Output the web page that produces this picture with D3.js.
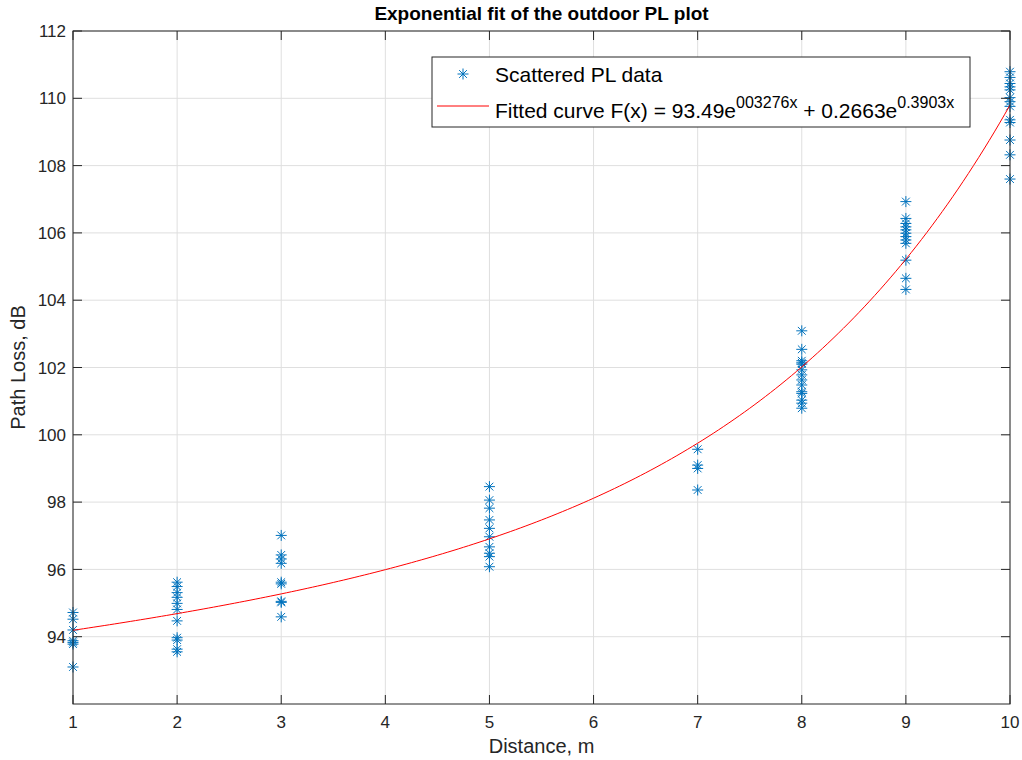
<!DOCTYPE html>
<html>
<head>
<meta charset="utf-8">
<script src="https://cdn.jsdelivr.net/npm/d3@7"></script>
<style>
  html, body { margin: 0; padding: 0; background: #fff; }
  svg { display: block; font-family: "Liberation Sans", Arial, Helvetica, sans-serif; }
</style>
</head>
<body>
<svg id="chart" width="1022" height="760"></svg>
<script>
// Measured distances (m) and the path loss samples taken at each distance (dB)
const distances = [1, 2, 3, 5, 7, 8, 9, 10];
const pathLoss = [
  [94.72, 94.52, 94.20, 93.88, 93.83, 93.78, 93.10],
  [95.62, 95.49, 95.31, 95.17, 94.99, 94.81, 94.47, 93.97, 93.90, 93.63, 93.55],
  [97.01, 96.43, 96.31, 96.18, 95.62, 95.57, 95.02, 95.05, 94.59],
  [98.46, 98.06, 97.82, 97.47, 97.22, 96.97, 96.67, 96.48, 96.38, 96.08],
  [99.57, 99.10, 99.00, 98.36],
  [103.09, 102.54, 102.20, 102.14, 102.10, 101.93, 101.78, 101.63, 101.48, 101.28, 101.23, 101.03, 100.94, 100.79],
  [106.93, 106.43, 106.28, 106.18, 106.09, 105.99, 105.89, 105.79, 105.69, 105.19, 104.65, 104.32],
  [110.79, 110.62, 110.44, 110.34, 110.25, 110.02, 109.90, 109.76, 109.36, 109.28, 108.76, 108.32, 107.60]
];

// Two-term exponential fit F(x) = a*e^(b*x) + c*e^(d*x)
const fitCoeffs = [93.49, 0.003276, 0.2663, 0.3903];

const xTicks = [1, 2, 3, 4, 5, 6, 7, 8, 9, 10];
const yTicks = [94, 96, 98, 100, 102, 104, 106, 108, 110, 112];

const titleText = "Exponential fit of the outdoor PL plot";
const xLabel = "Distance, m";
const yLabel = "Path Loss, dB";

const axisColor = "#262626";
const gridColor = "#dfdfdf";
const markerColor = "#0072BD";
const fitColor = "#ff0000";

const margin = { left: 73, right: 12, top: 31, bottom: 56 };
const W = 1022, H = 760;
const svg = d3.select("#chart");

const x = d3.scaleLinear().domain([1, 10]).range([margin.left, W - margin.right]);
const y = d3.scaleLinear().domain([92, 112]).range([H - margin.bottom, margin.top]);

const x0 = x.range()[0], x1 = x.range()[1];
const y0 = y.range()[0], y1 = y.range()[1];

// grid
const grid = svg.append("g");
grid.selectAll("line.gx").data(xTicks).join("line")
  .attr("x1", d => x(d)).attr("x2", d => x(d))
  .attr("y1", y0).attr("y2", y1)
  .attr("stroke", gridColor).attr("stroke-width", 1);
grid.selectAll("line.gy").data(yTicks).join("line")
  .attr("y1", d => y(d)).attr("y2", d => y(d))
  .attr("x1", x0).attr("x2", x1)
  .attr("stroke", gridColor).attr("stroke-width", 1);

// asterisk marker path (plus and cross)
function asterisk(r) {
  const q = r * Math.SQRT1_2;
  return `M${-r},0L${r},0M0,${-r}L0,${r}M${-q},${-q}L${q},${q}M${-q},${q}L${q},${-q}`;
}

// fitted curve
const fit = t => fitCoeffs[0] * Math.exp(fitCoeffs[1] * t) + fitCoeffs[2] * Math.exp(fitCoeffs[3] * t);
const curveX = d3.range(1, 10.0001, 0.05);
svg.append("clipPath").attr("id", "plotclip")
  .append("rect").attr("x", x0).attr("y", y1).attr("width", x1 - x0).attr("height", y0 - y1);

// scatter points
const points = [];
distances.forEach((d, i) => pathLoss[i].forEach(v => points.push([d, v])));
svg.append("g").selectAll("path").data(points).join("path")
  .attr("transform", d => `translate(${x(d[0])},${y(d[1])})`)
  .attr("d", asterisk(5.5))
  .attr("fill", "none").attr("stroke", markerColor).attr("stroke-width", 1);

svg.append("path")
  .datum(curveX)
  .attr("clip-path", "url(#plotclip)")
  .attr("d", d3.line().x(t => x(t)).y(t => y(fit(t))))
  .attr("fill", "none").attr("stroke", fitColor).attr("stroke-width", 1);

// axes (box with inward ticks on all four sides)
const tickLen = 9;
const axes = svg.append("g").attr("stroke", axisColor).attr("stroke-width", 1).attr("fill", "none");
axes.append("rect").attr("x", x0).attr("y", y1).attr("width", x1 - x0).attr("height", y0 - y1);
xTicks.forEach(t => {
  axes.append("line").attr("x1", x(t)).attr("x2", x(t)).attr("y1", y0).attr("y2", y0 - tickLen);
  axes.append("line").attr("x1", x(t)).attr("x2", x(t)).attr("y1", y1).attr("y2", y1 + tickLen);
});
yTicks.forEach(t => {
  axes.append("line").attr("y1", y(t)).attr("y2", y(t)).attr("x1", x0).attr("x2", x0 + tickLen);
  axes.append("line").attr("y1", y(t)).attr("y2", y(t)).attr("x1", x1).attr("x2", x1 - tickLen);
});

// tick labels
const tickFont = 17;
svg.append("g").selectAll("text").data(xTicks).join("text")
  .attr("x", d => x(d)).attr("y", y0 + 24)
  .attr("text-anchor", "middle").attr("font-size", tickFont).attr("fill", axisColor)
  .text(d => d);
svg.append("g").selectAll("text").data(yTicks).join("text")
  .attr("x", x0 - 7).attr("y", d => y(d)).attr("dy", "0.36em")
  .attr("text-anchor", "end").attr("font-size", tickFont).attr("fill", axisColor)
  .text(d => d);

// axis labels and title
svg.append("text").attr("x", (x0 + x1) / 2).attr("y", 753)
  .attr("text-anchor", "middle").attr("font-size", 20).attr("fill", axisColor).text(xLabel);
svg.append("text").attr("transform", `translate(25,${(y0 + y1) / 2}) rotate(-90)`)
  .attr("text-anchor", "middle").attr("font-size", 20).attr("fill", axisColor).text(yLabel);
svg.append("text").attr("x", (x0 + x1) / 2).attr("y", 20)
  .attr("text-anchor", "middle").attr("font-size", 19).attr("font-weight", "bold")
  .attr("fill", "#000").text(titleText);

// legend
const lg = svg.append("g");
lg.append("rect").attr("x", 432).attr("y", 57).attr("width", 538).attr("height", 70)
  .attr("fill", "#fff").attr("stroke", axisColor).attr("stroke-width", 1);
lg.append("path").attr("transform", "translate(463,74)").attr("d", asterisk(5.5))
  .attr("fill", "none").attr("stroke", markerColor).attr("stroke-width", 1);
lg.append("line").attr("x1", 437).attr("x2", 489).attr("y1", 106).attr("y2", 106)
  .attr("stroke", fitColor).attr("stroke-width", 1);
const legendFont = 21;
lg.append("text").attr("x", 495).attr("y", 82).attr("font-size", legendFont).attr("fill", "#000")
  .text("Scattered PL data");
const fitLabel = lg.append("text").attr("x", 495).attr("y", 118).attr("font-size", legendFont).attr("fill", "#000");
fitLabel.append("tspan").text("Fitted curve F(x) = 93.49e");
fitLabel.append("tspan").attr("dy", -10).attr("font-size", 16).text("003276x");
fitLabel.append("tspan").attr("dy", 10).text(" + 0.2663e");
fitLabel.append("tspan").attr("dy", -10).attr("font-size", 16).text("0.3903x");
</script>
</body>
</html>
